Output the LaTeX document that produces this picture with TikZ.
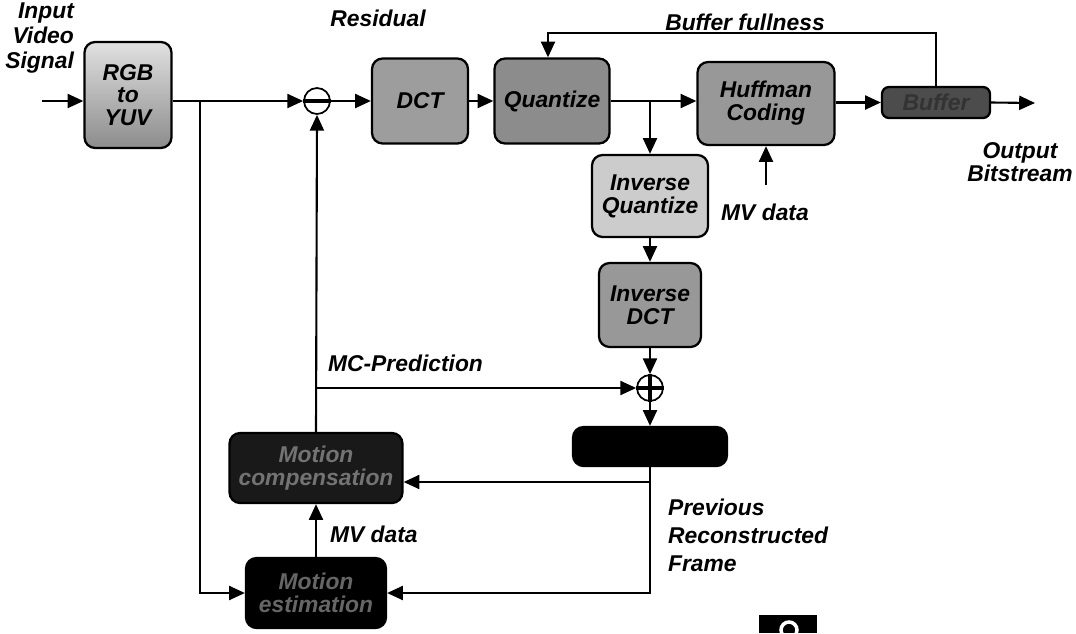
\documentclass[tikz,border=0pt]{standalone}
\usepackage{fontspec}
\setmainfont{Liberation Sans}
\usepackage{tikz}
\usetikzlibrary{arrows.meta,calc}
\definecolor{boxlt}{gray}{0.80}
\definecolor{boxmd}{gray}{0.55}
\definecolor{boxdk}{gray}{0.30}
\definecolor{boxbk}{gray}{0.10}

\begin{document}
\begin{tikzpicture}[x=0.02cm,y=-0.02cm,
  blk/.style={draw,line width=1.3pt,rounded corners=6pt,align=center,inner sep=1pt,
    font=\fontsize{13}{13}\selectfont\bfseries\itshape},
  lbl/.style={font=\fontsize{13}{14}\selectfont\bfseries\itshape,align=center,inner sep=1pt},
  junc/.style={circle,draw,line width=1pt,minimum size=0.52cm,inner sep=0pt},
  ln/.style={line width=1.2pt},
  arr/.style={line width=1.2pt,-{Triangle[length=9pt,width=8pt]}}]
  \useasboundingbox (0,0) rectangle (1076,633);
  % top row
  \node[blk,top color=boxlt!60,bottom color=boxmd,minimum width=1.74cm,minimum height=2.12cm] (rgb) at (128,95) {RGB\\to\\YUV};
  \node[junc] (sub) at (317,101) {};
  \draw[line width=2.6pt] (sub.west) -- (sub.east);
  \node[blk,fill=boxmd!85,minimum width=1.92cm,minimum height=1.7cm] (dct) at (420,101) {DCT};
  \node[blk,fill=boxmd,minimum width=2.3cm,minimum height=1.7cm] (quant) at (552,101) {Quantize};
  \node[blk,fill=boxmd!90!white,minimum width=2.74cm,minimum height=1.66cm] (huff) at (766,103.5) {Huffman\\Coding};
  \node[blk,fill=boxdk,text=black!80,minimum width=2.16cm,minimum height=0.62cm,rounded corners=4pt] (buf) at (936,102.5) {Buffer};
  % decoder loop
  \node[blk,fill=boxlt,minimum width=2.32cm,minimum height=1.64cm] (iquant) at (650,196) {Inverse\\Quantize};
  \node[blk,fill=boxmd!90,minimum width=2.04cm,minimum height=1.68cm] (idct) at (650,305) {Inverse\\DCT};
  \node[junc] (add) at (650,388) {};
  \draw[line width=2.6pt] (add.west) -- (add.east) (add.north) -- (add.south);
  \node[blk,fill=black,minimum width=3.08cm,minimum height=0.78cm] (fmem) at (650,446.5) {};
  \node[blk,fill=boxbk,text=black!55,minimum width=3.46cm,minimum height=1.4cm] (mc) at (316,468) {Motion\\compensation};
  \node[blk,fill=black,text=black!60,minimum width=2.8cm,minimum height=1.4cm] (me) at (316,593) {Motion\\estimation};
  % labels
  \node[lbl,align=right,anchor=east] at (76,38) {Input\\Video\\Signal};
  \node[lbl] at (378,18) {Residual};
  \node[lbl] at (745,22) {Buffer fullness};
  \node[lbl,font=\fontsize{13}{12}\selectfont\bfseries\itshape] at (1020,162) {Output\\Bitstream};
  \node[lbl] at (765,212) {MV data};
  \node[lbl,anchor=west] at (326,363) {MC-Prediction};
  \node[lbl,anchor=west] at (328,534) {MV data};
  \node[lbl,align=left,anchor=west,font=\fontsize{13}{16}\selectfont\bfseries\itshape] at (666,535) {Previous\\Reconstructed\\Frame};
  % connectors
  \coordinate (src) at (42,101);
  \coordinate (br) at (200,101);
  \coordinate (bf) at (548,33);
  \coordinate (out) at (1035,103);
  \coordinate (mv) at (766,185);
  \coordinate (mcp) at (316,388);
  \coordinate (fb) at (650,482);
  \draw[arr] (src) -- (src -| rgb.west);
  \draw[arr] (rgb.east |- sub) -- (sub.west);
  \draw[arr] (br) |- (me.west);
  \draw[arr] (sub) -- (dct);
  \draw[arr] (dct) -- (quant);
  \draw[arr] (quant.east) -- (quant.east -| huff.west);
  \draw[arr] (quant.east -| iquant.north) -- (iquant.north);
  \draw[arr] (huff.east |- buf.west) -- (buf.west);
  \draw[arr] (buf.east) -- (out);
  \draw[arr] (buf.north) |- (bf) -- (bf |- quant.north);
  \draw[arr] (mv) -- (huff.south);
  \draw[arr] (iquant) -- (idct);
  \draw[arr] (idct) -- (add);
  \draw[arr] (add) -- (fmem);
  \draw[ln] (fmem.south) -- (fb);
  \draw[arr] (fb) -- (fb -| mc.east);
  \draw[arr] (fb) |- (me.east);
  \draw[arr] (me) -- (mc);
  \draw[arr] (mc.north) -- (sub.south);
  \draw[arr] (mcp) -- (add.west);
  % logo
  \fill (759,615) rectangle (817,633);
  \draw[white,line width=2pt] (789,630) circle (0.16cm);
\end{tikzpicture}
\end{document}
